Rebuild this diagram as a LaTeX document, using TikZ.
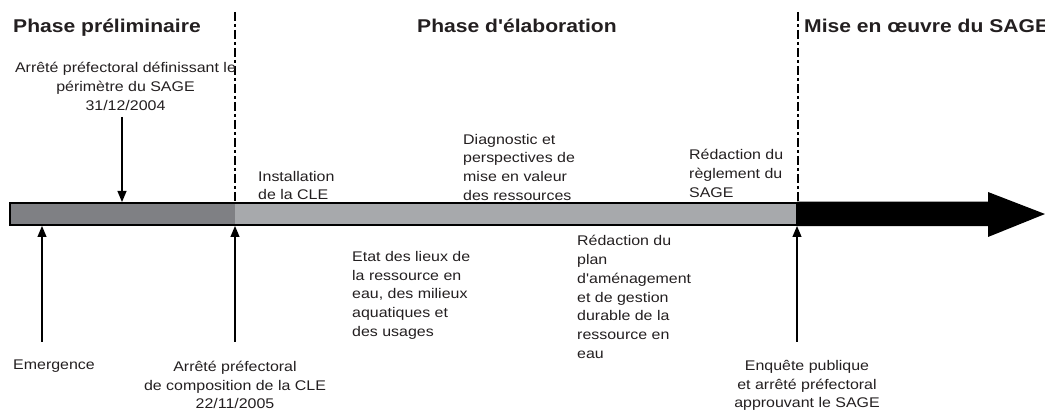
\documentclass[tikz,border=0pt]{standalone}
\usepackage{fontspec}
\usetikzlibrary{arrows.meta}
\newfontfamily\labfont[FakeStretch=1.14]{Liberation Sans}
\definecolor{txt}{HTML}{231F20}
\definecolor{darkseg}{HTML}{7F8084}
\definecolor{lightseg}{HTML}{A7A9AC}
\tikzset{
  lab/.style={font=\labfont\fontsize{14}{18.8}\selectfont, text=txt, inner sep=0pt, align=left},
  labc/.style={lab, align=center},
  title/.style={font=\labfont\bfseries\fontsize{18.5}{22}\selectfont, text=txt, inner sep=0pt},
  phaseline/.style={line width=1.3pt, dash pattern=on 9pt off 3pt on 3pt off 3pt},
  evarrow/.style={line width=1.2pt, -{Triangle[width=9pt,length=11pt]}}
}
\begin{document}
\begin{tikzpicture}[x=1pt,y=-1pt]
\useasboundingbox (0,0) rectangle (1045,411);
\clip (0,0) rectangle (1045,411);
% bar
\fill[darkseg] (10,203) rectangle (235,225);
\fill[lightseg] (235,203) rectangle (797,225);
\draw[line width=2.5pt] (10,203) rectangle (797,225);
\fill[black] (797,201.75) -- (988,201.75) -- (988,192) -- (1045,214) -- (988,237) -- (988,226.25) -- (797,226.25) -- cycle;
% phase separators
\coordinate (s1t) at (235,12); \coordinate (s1b) at (235,203);
\coordinate (s2t) at (798,12); \coordinate (s2b) at (798,203);
\draw[phaseline] (s1t) -- (s1b);
\draw[phaseline] (s2t) -- (s2b);
% titles
\node[title, anchor=base west] (t1) at (13,32.5) {Phase préliminaire};
\node[title, anchor=base west] (t2) at (417,32.5) {Phase d'élaboration};
\node[title, anchor=base west] (t3) at (804,32.5) {Mise en œuvre du SAGE};
% labels above (anchor base = baseline of last line)
\node[labc, anchor=base] (perim) at (125.5,110.5) {Arrêté préfectoral définissant le\\périmètre du SAGE\\31/12/2004};
\node[lab, anchor=base west] (install) at (258,200) {Installation\\de la CLE};
\node[lab, anchor=base west] (diag) at (463,200.5) {Diagnostic et\\perspectives de\\mise en valeur\\des ressources};
\node[lab, anchor=base west] (regl) at (689,197.5) {Rédaction du\\règlement du\\SAGE};
% labels below
\node[lab, anchor=base west] (etat) at (352,336.5) {Etat des lieux de\\la ressource en\\eau, des milieux\\aquatiques et\\des usages};
\node[lab, anchor=base west] (plan) at (577,358.5) {Rédaction du\\plan\\d'aménagement\\et de gestion\\durable de la\\ressource en\\eau};
\node[lab, anchor=base west] (emerg) at (13,370) {Emergence};
\node[labc, anchor=base] (compo) at (235,409) {Arrêté préfectoral\\de composition de la CLE\\22/11/2005};
\node[labc, anchor=base] (enq) at (807,408) {Enquête publique\\et arrêté préfectoral\\approuvant le SAGE};
% event arrows
\coordinate (a1s) at (122,117); \coordinate (a1e) at (122,202);
\coordinate (a2s) at (42,342);  \coordinate (a2e) at (42,226);
\coordinate (a3s) at (235,342); \coordinate (a3e) at (235,226);
\coordinate (a4s) at (797,342); \coordinate (a4e) at (797,226);
\draw[evarrow] (a1s) -- (a1e);
\draw[evarrow] (a2s) -- (a2e);
\draw[evarrow] (a3s) -- (a3e);
\draw[evarrow] (a4s) -- (a4e);
\end{tikzpicture}
\end{document}
